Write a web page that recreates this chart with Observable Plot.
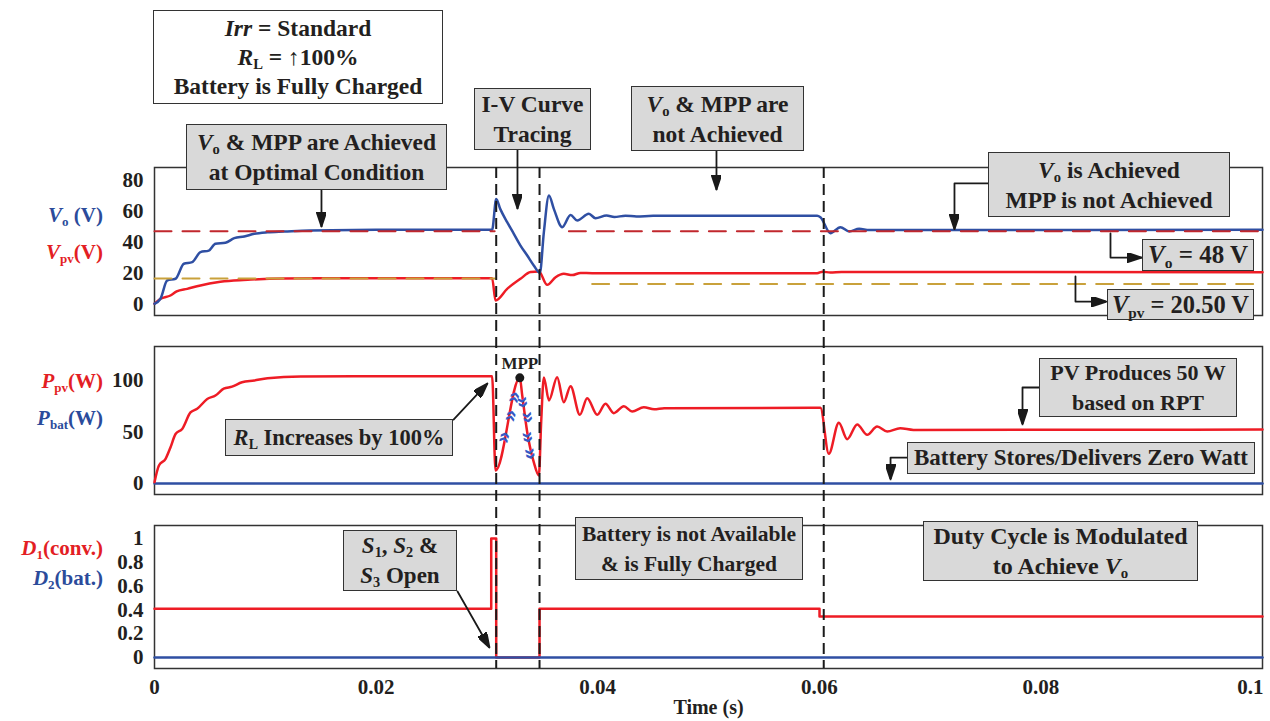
<!DOCTYPE html>
<html><head><meta charset="utf-8">
<script src="https://cdn.jsdelivr.net/npm/d3@7"></script>
<script src="https://cdn.jsdelivr.net/npm/@observablehq/plot@0.6"></script>
<style>
html,body{margin:0;padding:0;background:#fff;overflow:hidden;}
#wrap{position:relative;width:1270px;height:721px;overflow:hidden;font-family:"Liberation Serif","Times New Roman",serif;font-weight:bold;color:#231f20;}
#wrap svg{position:absolute;left:0;top:0;}
.box{position:absolute;box-sizing:border-box;background:#d9d9d9;border:1.5px solid #333;display:flex;flex-direction:column;justify-content:center;align-items:center;text-align:center;font-size:23px;line-height:30px;z-index:5;white-space:nowrap;}
.box.white{background:#fff;line-height:29px;}
.lab{position:absolute;right:1167px;font-size:21px;line-height:24px;z-index:5;white-space:nowrap;}
sub{font-size:0.62em;vertical-align:-0.3em;line-height:0;}
.blue{color:#2b4b9b;} .red{color:#e31e24;}
</style></head>
<body><div id="wrap"></div>
<script>
// ---------- data ----------
const timeTicks = [0, 0.02, 0.04, 0.06, 0.08, 0.1];
const vTicks = [0, 20, 40, 60, 80];
const pTicks = [0, 50, 100];
const dTicks = [0, 0.2, 0.4, 0.6, 0.8, 1];
const eventTimes = [0.03084, 0.03475, 0.0604];

const voTime = [0,0.00054,0.00114,0.0019,0.00265,0.0034,0.00415,0.0049,0.0055,0.0064,0.0072,0.0081,0.009,0.0102,0.0117,0.014,0.02,0.03047,0.03084,0.0312,0.03183,0.03243,0.03303,0.03364,0.03423,0.03478,0.03514,0.0356,0.03604,0.0368,0.03755,0.03815,0.0392,0.0398,0.0408,0.0415,0.0425,0.0435,0.045,0.0598,0.0601,0.061,0.0619,0.0627,0.0636,0.0645,0.1];
const voValue = [0.5,3.7,15.5,16.6,26.3,27.3,33.8,34.8,39.2,39.8,42.8,43.9,45.6,46.6,47.1,47.8,48.2,48.2,68,61.7,53.1,45.6,38,31.6,25.2,20.4,46.6,70.3,61.7,49.9,57.8,54.2,58.5,55.7,57.4,56.4,57.3,56.8,57.2,57.2,56.3,46,49.9,47.1,48.8,48,48.2];

const vpvTime = [0,0.00054,0.00144,0.002,0.00295,0.00415,0.00566,0.00716,0.0087,0.0117,0.015,0.03047,0.03078,0.03183,0.03303,0.03394,0.03469,0.03544,0.0362,0.03694,0.0377,0.03845,0.0395,0.0598,0.0603,0.061,0.062,0.1];
const vpvValue = [0.5,3.7,5.8,8.4,10.1,12.3,14.4,15.5,16.1,16.8,17,17,2.6,10.1,16.6,20.9,21.3,12.7,17.6,19.8,19,20.4,20.2,20.2,21.2,20.6,21,20.8];

const voRefTime = [[0, 0.0307], [0.0374, 0.1]];
const voRefValue = 47.2;
const vmppRefTime = [[0, 0.0307], [0.0395, 0.1]];
const vmppRefValue = [16.8, 13.3];

const ppvTime = [0,0.0004,0.001,0.00144,0.0019,0.0025,0.00325,0.00385,0.00476,0.0055,0.00625,0.007,0.0079,0.009,0.0102,0.0132,0.018,0.03047,0.03078,0.03297,0.03319,0.03364,0.03423,0.03469,0.0349,0.03514,0.0356,0.03634,0.03694,0.03755,0.03839,0.03905,0.03996,0.0407,0.04145,0.04236,0.04311,0.04416,0.0451,0.046,0.0601,0.06086,0.06176,0.06252,0.06342,0.06432,0.06522,0.06613,0.0673,0.0685,0.1];
const ppvValue = [1.3,17.5,24,35,48,53,69,72.5,82,85.4,92,94,98.3,100,102.2,103.9,104,104,12.6,102.6,85.4,49.8,20.7,7.8,60,103,80.6,103.2,78.9,94.5,66.7,82.8,66.7,77.4,68.3,75,69.9,74.1,72,73,73.5,28.8,58.9,43,57.3,47.2,55.3,50.5,53.6,52,52.4];
const pbatTime = [0, 0.1];
const pbatValue = [0, 0];
const mppPoint = [0.03297, 102.6];
const chevUpTime = [0.03147, 0.03207, 0.03237];
const chevUpValue = [45, 66, 83.8];
const chevDownTime = [0.03333, 0.03378, 0.03378, 0.034];
const chevDownValue = [79, 64.4, 45, 28.8];

const d1Time = [0, 0.03039, 0.03084, 0.03475, 0.06002, 0.1];
const d1Value = [0.41, 1.0, 0, 0.41, 0.345, 0.345];
const d2Time = [0, 0.1];
const d2Value = [0, 0];

// annotation arrows (time, value) in each panel's units
const arrowsV = [
  [[0.01507,73.5],[0.01507,50.3]],
  [[0.03276,99.4],[0.03276,61.9]],
  [[0.05072,99.4],[0.05072,74.2]],
  [[0.07527,78.1],[0.0722,78.1],[0.0722,48.6]],
  [[0.08628,45.8],[0.08628,30.3],[0.08908,30.3]],
  [[0.08312,18.1],[0.08312,1.9],[0.08592,1.9]]
];
const arrowsP = [
  [[0.02699,62.1],[0.03005,97.1]],
  [[0.07996,93.2],[0.07834,93.2],[0.07834,57.3]],
  [[0.06796,25.2],[0.06643,25.2],[0.06643,3.9]]
];
const arrowsD = [
  [[0.02735,0.555],[0.03023,0.084]]
];

// ---------- styling ----------
const BLUE = "#2f4fa3", RED = "#ee1c25", DRED = "#c1272d", GOLD = "#c9a13b", INK = "#1a1a1a";
const FONT = "Liberation Serif, Times New Roman, serif";
const W = 1270, H = 721, XL = 154, XR = 1262;

function tri(color, context) {
  const ns = "http://www.w3.org/2000/svg";
  const doc = (context && context.document) || document;
  const m = doc.createElementNS(ns, "marker");
  m.setAttribute("viewBox", "0 -5 15 10");
  m.setAttribute("markerWidth", "15");
  m.setAttribute("markerHeight", "10");
  m.setAttribute("markerUnits", "userSpaceOnUse");
  m.setAttribute("refX", "15");
  m.setAttribute("refY", "0");
  m.setAttribute("orient", "auto");
  const p = doc.createElementNS(ns, "path");
  p.setAttribute("d", "M0,-5L15,0L0,5Z");
  p.setAttribute("fill", color);
  m.appendChild(p);
  return m;
}
const zipT = (t, v) => t.map((d, i) => ({t: d, v: v[i]}));
const arrowRows = (arr) => arr.flatMap((pts, k) => pts.map(([t, v]) => ({k, t, v})));
function arrowMark(arr) {
  return Plot.line(arrowRows(arr), {x: "t", y: "v", z: "k", stroke: INK, strokeWidth: 1.8, markerEnd: tri, curve: "linear"});
}
const fmt = d => String(+d.toFixed(3));
const tickStyle = {fontSize: 21, fontWeight: "bold", fontFamily: FONT, fill: "#231f20"};

function panel(top, bottom, domain, ticks, marks, xAxis) {
  return Plot.plot({
    width: W, height: H,
    marginLeft: XL, marginRight: W - XR, marginTop: top, marginBottom: H - bottom,
    style: {background: "transparent", overflow: "visible", fontFamily: FONT},
    x: {domain: [0, 0.1], axis: null},
    y: {domain},
    marks: [
      Plot.frame({stroke: "#333", strokeWidth: 1.5}),
      Plot.axisY({ticks, tickSize: 0, tickPadding: 11, tickFormat: fmt, label: null, ...tickStyle}),
      ...(xAxis ? [
        Plot.axisX({ticks: timeTicks.slice(0, -1), tickSize: 0, tickPadding: 11, tickFormat: fmt, label: null, ...tickStyle}),
        Plot.text(timeTicks.slice(-1), {x: d => d, frameAnchor: "bottom", lineAnchor: "top", textAnchor: "end", dy: 11, dx: 1, text: fmt, ...tickStyle}),
        Plot.text(["Time (s)"], {x: 0.05, frameAnchor: "bottom", lineAnchor: "middle", dy: 39, text: d => d, ...tickStyle, fontSize: 20})
      ] : []),
      ...marks
    ]
  });
}

const wrap = document.getElementById("wrap");

// Panel 1: voltages
const refRows = (segs, vals) => segs.flatMap((s, k) => s.map(t => ({k, t, v: Array.isArray(vals) ? vals[k] : vals})));
wrap.appendChild(panel(167, 315, [-7.1, 88.4], vTicks, [
  Plot.line(zipT(vpvTime, vpvValue), {x: "t", y: "v", stroke: RED, strokeWidth: 2.5, curve: "monotone-x"}),
  Plot.line(zipT(voTime, voValue), {x: "t", y: "v", stroke: BLUE, strokeWidth: 2.5, curve: "monotone-x"}),
  Plot.line(refRows(voRefTime, voRefValue), {x: "t", y: "v", z: "k", stroke: DRED, strokeWidth: 2, strokeDasharray: "17,11"}),
  Plot.line(refRows(vmppRefTime, vmppRefValue), {x: "t", y: "v", z: "k", stroke: GOLD, strokeWidth: 2, strokeDasharray: "17,11"}),
  arrowMark(arrowsV)
], false));

// Panel 2: powers
wrap.appendChild(panel(346, 494, [-10.7, 133], pTicks, [
  Plot.line(zipT(pbatTime, pbatValue), {x: "t", y: "v", stroke: BLUE, strokeWidth: 2.5}),
  Plot.line(zipT(ppvTime, ppvValue), {x: "t", y: "v", stroke: RED, strokeWidth: 2.5, curve: "monotone-x"}),
  Plot.text(zipT(chevUpTime, chevUpValue), {x: "t", y: "v", text: () => "»", rotate: -75, fill: "#3658c4", fontSize: 21, fontWeight: "bold", fontFamily: "Liberation Sans"}),
  Plot.text(zipT(chevDownTime, chevDownValue), {x: "t", y: "v", text: () => "»", rotate: 79, fill: "#3658c4", fontSize: 21, fontWeight: "bold", fontFamily: "Liberation Sans"}),
  Plot.dot([mppPoint], {x: d => d[0], y: d => d[1], r: 4.5, fill: INK, stroke: "none"}),
  Plot.text([mppPoint], {x: d => d[0], y: d => d[1], text: () => "MPP", dy: -14, fontSize: 17, fontWeight: "bold", fontFamily: FONT, fill: "#231f20"}),
  arrowMark(arrowsP)
], false));

// Panel 3: duty cycles
wrap.appendChild(panel(525, 668, [-0.0924, 1.109], dTicks, [
  Plot.line(zipT(d1Time, d1Value), {x: "t", y: "v", stroke: RED, strokeWidth: 2.5, curve: "step-after"}),
  Plot.line(zipT(d2Time, d2Value), {x: "t", y: "v", stroke: BLUE, strokeWidth: 2.5}),
  arrowMark(arrowsD)
], true));

// Event markers spanning all panels
wrap.appendChild(Plot.plot({
  width: W, height: H, marginLeft: XL, marginRight: W - XR, marginTop: 167, marginBottom: H - 668,
  style: {background: "transparent", overflow: "visible"},
  x: {domain: [0, 0.1], axis: null},
  marks: [Plot.ruleX(eventTimes, {stroke: INK, strokeWidth: 2, strokeDasharray: "11,6"})]
}));

// ---------- text annotations ----------
const boxes = [
  {x:153, y:10, w:290, h:94, cls:"white", fs:23.5, html:["<i>Irr</i> = Standard","<i>R</i><sub>L</sub> = ↑100%","Battery is Fully Charged"]},
  {x:186, y:124, w:261, h:66, fs:23.5, html:["<i>V</i><sub>o</sub> &amp; MPP are Achieved","at Optimal Condition"]},
  {x:474, y:88, w:117, h:62, fs:23.5, html:["I-V Curve","Tracing"]},
  {x:631, y:86, w:173, h:65, fs:23.5, html:["<i>V</i><sub>o</sub> &amp; MPP are","not Achieved"]},
  {x:988, y:152, w:242, h:65, fs:23.5, html:["<i>V</i><sub>o</sub> is Achieved","MPP is not Achieved"]},
  {x:1142, y:239, w:112, h:32, fs:25, html:["<i>V</i><sub>o</sub> = 48 V"]},
  {x:1107, y:289, w:147, h:31, fs:24.5, html:["<i>V</i><sub>pv</sub> = 20.50 V"]},
  {x:225, y:419, w:228, h:37, fs:22.5, html:["<i>R</i><sub>L</sub> Increases by 100%"]},
  {x:1039, y:358, w:198, h:59, fs:22, html:["PV Produces 50 W","based on RPT"]},
  {x:907, y:442, w:348, h:32, fs:23, html:["Battery Stores/Delivers Zero Watt"]},
  {x:343, y:530, w:114, h:61, fs:23, html:["<i>S</i><sub>1</sub>, <i>S</i><sub>2</sub> &amp;","<i>S</i><sub>3</sub> Open"]},
  {x:575, y:517, w:228, h:63, fs:21.5, html:["Battery is not Available","&amp; is Fully Charged"]},
  {x:923, y:521, w:275, h:60, fs:24, html:["Duty Cycle is Modulated","to Achieve <i>V</i><sub>o</sub>"]}
];
boxes.forEach(b => {
  const d = document.createElement("div");
  d.className = "box " + (b.cls || "");
  Object.assign(d.style, {left: b.x + "px", top: b.y + "px", width: b.w + "px", height: b.h + "px"});
  if (b.fs) d.style.fontSize = b.fs + "px";
  d.innerHTML = b.html.map(s => `<div>${s}</div>`).join("");
  wrap.appendChild(d);
});

const axisLabels = [
  {y:215, cls:"blue", html:"<i>V</i><sub>o</sub> (V)"},
  {y:252, cls:"red", html:"<i>V</i><sub>pv</sub>(V)"},
  {y:381, cls:"red", html:"<i>P</i><sub>pv</sub>(W)"},
  {y:418, cls:"blue", html:"<i>P</i><sub>bat</sub>(W)"},
  {y:548, cls:"red", html:"<i>D</i><sub>1</sub>(conv.)"},
  {y:578, cls:"blue", html:"<i>D</i><sub>2</sub>(bat.)"}
];
axisLabels.forEach(l => {
  const d = document.createElement("div");
  d.className = "lab " + l.cls;
  d.style.top = (l.y - 12) + "px";
  d.innerHTML = l.html;
  wrap.appendChild(d);
});
</script>
</body></html>
